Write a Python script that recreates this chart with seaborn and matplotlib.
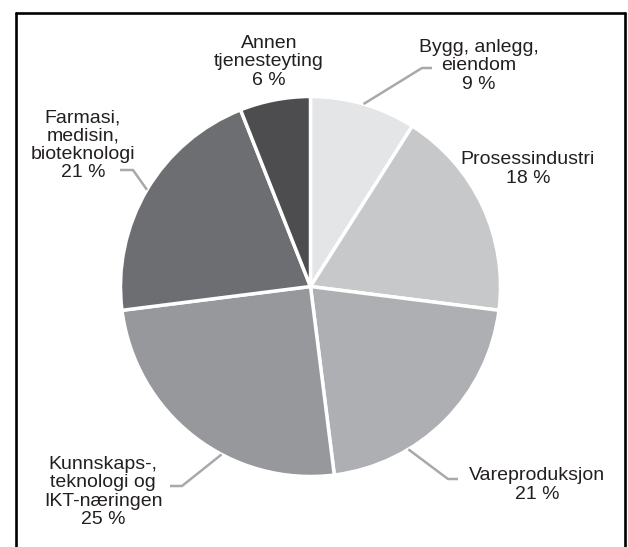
import numpy as np
import matplotlib
matplotlib.use("Agg")
import matplotlib.pyplot as plt
from matplotlib.lines import Line2D
import seaborn as sns

# Data
sectors = ["Bygg, anlegg,\neiendom", "Prosessindustri", "Vareproduksjon",
           "Kunnskaps-,\nteknologi og\nIKT-næringen", "Farmasi,\nmedisin,\nbioteknologi",
           "Annen\ntjenesteyting"]
shares = [9, 18, 21, 25, 21, 6]
colors = ["#e4e5e7", "#c7c8ca", "#aeafb2", "#97989b", "#6d6e71", "#4d4d4f"]

# label placement (pixel coords, y from top) and leader line settings
label_pos = [(479, 66), (528, 169), (537, 485), (103, 492), (83, 145), (269, 62)]
leader_frac = [0.5, None, 0.685, 0.39, 0.5, None]   # where along the wedge the line starts
leader_elbow = [(422, 68), None, (448, 479), (182, 486), (133, 170), None]
leader_end = [(432, 68), None, (458, 479), (170, 486), (120, 170), None]

sns.set_theme(style="white")
plt.rcParams["font.family"] = ["Liberation Sans", "DejaVu Sans"]

W, H = 628, 547
fig = plt.figure(figsize=(W / 100, H / 100), dpi=100)
ax = fig.add_axes([0, 0, 1, 1])

cx, cy, R = 310.5, H - 286.5, 190
wedges, _ = ax.pie(shares, colors=colors, startangle=90, counterclock=False,
                   center=(cx, cy), radius=R,
                   wedgeprops=dict(edgecolor="white", linewidth=2.5))
ax.set_xlim(0, W)
ax.set_ylim(0, H)
ax.set_aspect("equal")
ax.axis("off")

for i, (name, val) in enumerate(zip(sectors, shares)):
    tx, ty = label_pos[i]
    ax.text(tx, H - ty, f"{name}\n{val} %", ha="center", va="center",
            fontsize=14, color="#231f20", linespacing=1.1)
    if leader_frac[i] is not None:
        w = wedges[i]
        ang = np.deg2rad(w.theta1 + (w.theta2 - w.theta1) * (1 - leader_frac[i]))
        sx, sy = cx + R * np.cos(ang), cy + R * np.sin(ang)
        ex, ey = leader_elbow[i]
        fx, fy = leader_end[i]
        ax.plot([sx, ex, fx], [sy, H - ey, H - fy], color="#a7a9ac", lw=1.8,
                solid_capstyle="butt")

# frame around the figure (open at the bottom)
fx0, fx1, fy0 = 16 / W, 625 / W, 1 - 12.5 / H
for xs, ys in [([fx0, fx0], [0, fy0]), ([fx0, fx1], [fy0, fy0]), ([fx1, fx1], [fy0, 0])]:
    fig.add_artist(Line2D(xs, ys, color="black", lw=1.9, transform=fig.transFigure))

fig.savefig("out.png", dpi=100)
